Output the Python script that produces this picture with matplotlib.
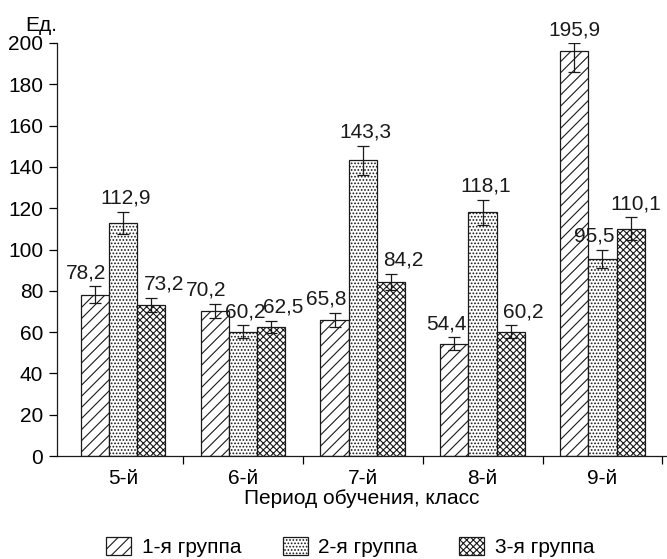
import numpy as np
import matplotlib
matplotlib.use('Agg')
import matplotlib.pyplot as plt
from matplotlib.transforms import offset_copy

plt.rcParams['font.family'] = ['Liberation Sans', 'DejaVu Sans']
plt.rcParams['font.size'] = 15
plt.rcParams['hatch.linewidth'] = 0.8

# values per school year, three groups
classes = ['5-й', '6-й', '7-й', '8-й', '9-й']
groups = ['1-я группа', '2-я группа', '3-я группа']
group1 = [78.2, 70.2, 65.8, 54.4, 195.9]
group2 = [112.9, 60.2, 143.3, 118.1, 95.5]
group3 = [73.2, 62.5, 84.2, 60.2, 110.1]
# error bar sizes (lower, upper)
err1_lo = [4.0, 3.5, 3.5, 3.0, 10.0]
err1_hi = [4.0, 3.5, 3.5, 3.0, 4.0]
err2 = [5.5, 3.0, 7.0, 6.0, 4.5]
err3 = [3.5, 3.0, 4.0, 3.0, 5.5]

values = [group1, group2, group3]
errors = [[err1_lo, err1_hi], [err2, err2], [err3, err3]]
hatches = ['///', '.....', 'xxxxx']
# shift of value labels, points
label_dx = [[-6, -6, -6, -6, 0],
            [2, 2, 2, 2, -6],
            [9, 9, 9, 9, 4]]

fig = plt.figure(figsize=(6.67, 5.59), dpi=100)
ax = fig.add_axes([57 / 667, 103 / 559, 609 / 667, 413 / 559])

x = np.arange(len(classes))
w = 0.235
for i, (vals, err, h) in enumerate(zip(values, errors, hatches)):
    pos = x + (i - 1) * w
    ax.bar(pos, vals, w, color='white', edgecolor='#1a1a1a', linewidth=0.9,
           hatch=h, label=groups[i], zorder=2)
    ax.errorbar(pos, vals, yerr=err, fmt='none', ecolor='#1a1a1a',
                elinewidth=0.9, capsize=4, capthick=0.9, zorder=3)
    for j, (p, v, e) in enumerate(zip(pos, vals, err[1])):
        tr = offset_copy(ax.transData, fig=fig, x=label_dx[i][j], y=3, units='points')
        ax.text(p, v + e, f'{v:.1f}'.replace('.', ','), transform=tr,
                ha='center', va='bottom', color='#1a1a1a', clip_on=False)

ax.set_xlim(-0.55, 4.53)
ax.set_ylim(0, 200)
ax.set_yticks(np.arange(0, 201, 20))
ax.set_xticks(np.arange(0.5, 4.6, 1))
ax.set_xticklabels([])
ax.set_xticks(x, minor=True)
ax.set_xticklabels(classes, minor=True)
ax.tick_params(axis='x', which='major', direction='out', length=6, width=0.9)
ax.tick_params(axis='x', which='minor', length=0, pad=9)
ax.tick_params(axis='y', direction='out', length=6, width=0.9, pad=4)
for s in ['top', 'right']:
    ax.spines[s].set_visible(False)
for s in ['left', 'bottom']:
    ax.spines[s].set_linewidth(0.9)
    ax.spines[s].set_color('#1a1a1a')

ax.set_xlabel('Период обучения, класс', labelpad=1)
fig.text(57 / 667, 1 - 31 / 559, 'Ед.', ha='right', va='baseline')

fig.legend(loc='lower center', bbox_to_anchor=(0.525, -0.03), ncol=3,
           frameon=False, handlelength=1.2, handleheight=1.0,
           columnspacing=2.0, handletextpad=0.5)

fig.savefig('out.png', dpi=100)
